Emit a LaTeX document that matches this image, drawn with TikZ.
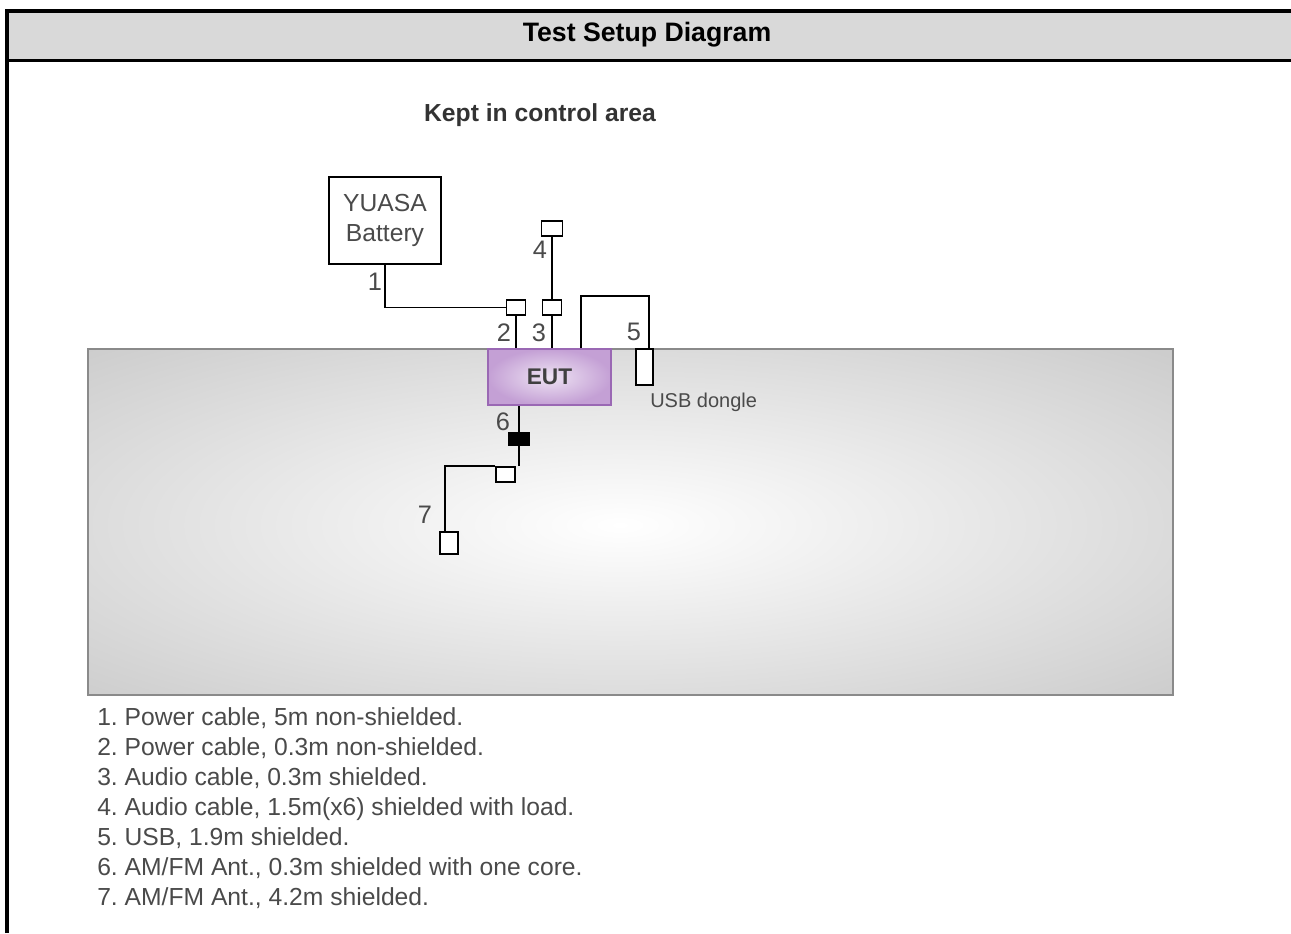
\documentclass[tikz,border=0pt]{standalone}
\usepackage{fontspec}
\setmainfont{Liberation Sans}
\usetikzlibrary{positioning}
\definecolor{headgray}{HTML}{D9D9D9}
\definecolor{tablegray}{HTML}{CDCDCD}
\definecolor{tableedge}{HTML}{8A8A8A}
\definecolor{txtgray}{HTML}{4A4A4A}
\definecolor{eutin}{HTML}{EEE3F3}
\definecolor{eutout}{HTML}{C4A0D5}
\definecolor{eutedge}{HTML}{9A68B4}
\tikzset{
  cable/.style={line width=1.4pt, line join=miter},
  plug/.style={draw, line width=1.4pt, fill=white, inner sep=0pt,
               minimum width=14.25pt, minimum height=11.25pt},
  numlabel/.style={text=txtgray, font=\fontsize{19}{22}\selectfont, inner sep=0pt},
  legend/.style={text=txtgray, font=\frenchspacing\fontsize{18.5}{22}\selectfont, inner sep=0pt, anchor=base west}
}

\begin{document}
\begin{tikzpicture}[x=0.75pt, y=-0.75pt]
  \useasboundingbox (0,0) rectangle (1291,933);

  % frame and header
  \fill[headgray] (9,13) rectangle (1291,59);
  \draw[line width=3pt] (7,933) -- (7,11) -- (1291,11);
  \draw[line width=2.25pt] (7,60.5) -- (1291,60.5);
  \node[font=\bfseries\fontsize{20}{24}\selectfont] (title) at (647,35) {Test Setup Diagram};

  % table
  \fill[tablegray] (88,349) rectangle (1173,695);
  \begin{scope}
    \clip (88,349) rectangle (1173,695);
    \shade[inner color=white, outer color=tablegray] (620,525) ellipse (765 and 245);
  \end{scope}
  \draw[tableedge, line width=1.5pt] (88,349) rectangle (1173,695);

  \node[font=\bfseries\fontsize{18.5}{22}\selectfont, text=black!80] (area) at (540,115) {Kept in control area};

  % equipment
  \node[draw, line width=1.4pt, fill=white, minimum width=84pt, minimum height=65.25pt,
        align=center, text=txtgray, font=\fontsize{18.5}{22.5}\selectfont] (bat) at (385,220.5) {YUASA\\Battery};
  \node[draw=eutedge, line width=1.2pt, inner color=eutin, outer color=eutout,
        minimum width=92.25pt, minimum height=42pt, text=black!75,
        font=\bfseries\fontsize{17}{20}\selectfont] (eut) at (549.5,377) {EUT};

  \node[plug] (p2) at (516,307.5) {};
  \node[plug] (p3) at (552,307.5) {};
  \node[plug, minimum width=15.75pt] (p4) at (552,228.5) {};
  \node[plug, minimum width=12.75pt, minimum height=27pt] (dongle) at (644.5,367) {};
  \node[plug, fill=black, minimum width=15pt, minimum height=9pt] (core) at (519,439) {};
  \node[plug] (p6) at (505.5,474.5) {};
  \node[plug, minimum width=13.5pt, minimum height=16pt] (p7) at (449,543) {};
  \coordinate (c5) at (581,296);

  % cables
  \draw[cable] (bat.south) |- (p2.west);
  \draw[cable] (p2.south) -- (p2.south |- eut.north);
  \draw[cable] (p4.south) -- (p3.north);
  \draw[cable] (p3.south) -- (p3.south |- eut.north);
  \draw[cable] (c5 |- eut.north) -- (c5) -| ([xshift=3.4pt]dongle.north);
  \draw[cable] (core.north |- eut.south) -- (core.north);
  \draw[cable] (core.south) -- (core.south |- p6.north);
  \draw[cable] (p6.north west) -| ([xshift=-3.3pt]p7.north);

  % labels
  \node[numlabel] (l1) at (375,282) {1};
  \node[numlabel] (l2) at (504,333) {2};
  \node[numlabel] (l3) at (539,333) {3};
  \node[numlabel] (l4) at (540,250) {4};
  \node[numlabel] (l5) at (634,332) {5};
  \node[numlabel] (l6) at (503,422) {6};
  \node[numlabel] (l7) at (425,515) {7};
  \node[text=txtgray, font=\fontsize{15}{18}\selectfont, anchor=west, inner sep=0pt] (usb) at (650,402) {USB dongle};

  % legend
  \foreach \txt [count=\i] in {{Power cable, 5m non-shielded.},
                               {Power cable, 0.3m non-shielded.},
                               {Audio cable, 0.3m shielded.},
                               {Audio cable, 1.5m(x6) shielded with load.},
                               {USB, 1.9m shielded.},
                               {AM/FM Ant., 0.3m shielded with one core.},
                               {AM/FM Ant., 4.2m shielded.}}
    \node[legend] (leg\i) at (97,{725+30*(\i-1)}) {\i. \txt};
\end{tikzpicture}
\end{document}
